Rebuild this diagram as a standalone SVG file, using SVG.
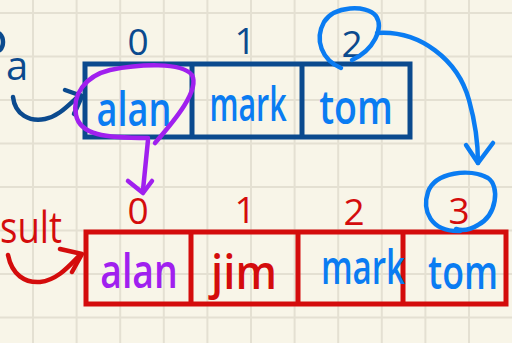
<svg xmlns="http://www.w3.org/2000/svg" width="512" height="343" viewBox="0 0 512 343">
  <defs>
    <style>
      .grid { stroke: #e4e0d2; stroke-width: 2; fill: none; }
      .box-a { fill: none; stroke: #0b4a8e; stroke-width: 5; stroke-linejoin: miter; }
      .box-r { fill: none; stroke: #d40c0c; stroke-width: 5; stroke-linejoin: miter; }
      .ink { fill: none; stroke-width: 4.5; stroke-linecap: round; stroke-linejoin: round; }
      .idx { font-family: "Open Sans", "Liberation Sans", sans-serif; font-size: 37px; font-weight: 500; text-anchor: middle; }
      .val { font-family: "Open Sans", "Liberation Sans", sans-serif; font-size: 47px; font-weight: 600; text-anchor: middle; }
      .navy { fill: #0b4a8e; }
      .red { fill: #d40c0c; }
      .blue { fill: #0a7cf2; }
      .purple { fill: #a020ef; }
    </style>
  </defs>

  <!-- paper -->
  <rect width="512" height="343" fill="#f8f5e8"/>
  <path class="grid" d="M33,0V343 M76.6,0V343 M120.2,0V343 M163.8,0V343 M207.4,0V343 M251,0V343 M294.6,0V343 M338.2,0V343 M381.8,0V343 M425.4,0V343 M469,0V343
                        M0,13H512 M0,56.5H512 M0,100H512 M0,143.5H512 M0,187H512 M0,230.5H512 M0,274H512 M0,317.5H512"/>

  <!-- array a -->
  <g id="array-a">
    <rect class="box-a" x="85" y="64" width="325" height="73"/>
    <path class="box-a" d="M192,64V137 M302,64V137"/>
    <text class="idx navy" x="138" y="55">0</text>
    <text class="idx navy" x="245" y="54">1</text>
    <text class="idx navy" x="352" y="57">2</text>
    <text class="val blue" transform="translate(134,126) scale(0.78,1)" textLength="96" lengthAdjust="spacingAndGlyphs">alan</text>
    <text class="val blue" transform="translate(248,121) scale(0.66,1)" textLength="117" lengthAdjust="spacingAndGlyphs">mark</text>
    <text class="val blue" transform="translate(356,124) scale(0.8,1)" textLength="92" lengthAdjust="spacingAndGlyphs">tom</text>
  </g>

  <g id="label-a">
    <text class="idx navy" x="17" y="80" style="font-size:40px">a</text>
    <path class="ink" stroke="#0b4a8e" d="M0,34 C4,38 4,46 0,50"/>
  </g>

  <!-- array result -->
  <g id="array-result">
    <rect class="box-r" x="86" y="232" width="420" height="72"/>
    <path class="box-r" d="M191,232V304 M298,232V304 M403,232V304"/>
    <text class="idx red" x="138" y="224">0</text>
    <text class="idx red" x="245" y="223">1</text>
    <text class="idx red" x="354" y="225">2</text>
    <text class="idx red" x="459" y="224">3</text>
    <text class="val purple" transform="translate(139,288) scale(0.8,1)" textLength="97" lengthAdjust="spacingAndGlyphs">alan</text>
    <text class="val red" transform="translate(244,289) scale(0.94,1)" textLength="70" lengthAdjust="spacingAndGlyphs">jim</text>
    <text class="val blue" transform="translate(363,284) scale(0.72,1)" textLength="117" lengthAdjust="spacingAndGlyphs">mark</text>
    <text class="val blue" transform="translate(463,289) scale(0.76,1)" textLength="92" lengthAdjust="spacingAndGlyphs">tom</text>
  </g>

  <g id="label-result">
    <text class="val red" x="0" y="243" style="text-anchor:start;font-weight:400;font-size:44px" textLength="62" lengthAdjust="spacingAndGlyphs">sult</text>
  </g>

  <!-- connectors -->
  <g id="connectors">
    <!-- a points to the array -->
    <path class="ink" stroke="#0b4a8e" d="M13,97 C15,115 30,122 45,119 C60,116 70,103 80,95"/>
    <path class="ink" stroke="#0b4a8e" d="M65,90 L82,96 L74,114"/>
    <!-- result points to the array -->
    <path class="ink" stroke="#d40c0c" d="M8,255 C12,275 25,283 40,282 C58,280 70,265 80,255"/>
    <path class="ink" stroke="#d40c0c" d="M60,249 L82,254 L72,272"/>
    <!-- alan copied to index 0 -->
    <path class="ink" stroke="#a020ef" d="M155,143 C175,120 200,90 192,75 C182,62 140,64 110,70 C85,76 72,95 76,115 C80,135 105,138 148,138"/>
    <path class="ink" stroke="#a020ef" d="M148,140 L143,190"/>
    <path class="ink" stroke="#a020ef" d="M128,181 L143,193 L152,181"/>
    <!-- tom moves from index 2 to index 3 -->
    <path class="ink" stroke="#0a7cf2" d="M341,68 C322,60 314,40 324,22 C334,6 366,4 376,16 C384,28 374,50 352,60"/>
    <path class="ink" stroke="#0a7cf2" d="M377,33 C420,30 458,60 469,100 C476,125 478,145 478,163"/>
    <path class="ink" stroke="#0a7cf2" d="M466,145 L478,163 L493,143"/>
    <path class="ink" stroke="#0a7cf2" d="M460,231 C430,232 422,210 428,192 C435,172 470,168 488,178 C500,186 497,215 478,225 C470,230 462,231 456,229"/>
  </g>
</svg>
